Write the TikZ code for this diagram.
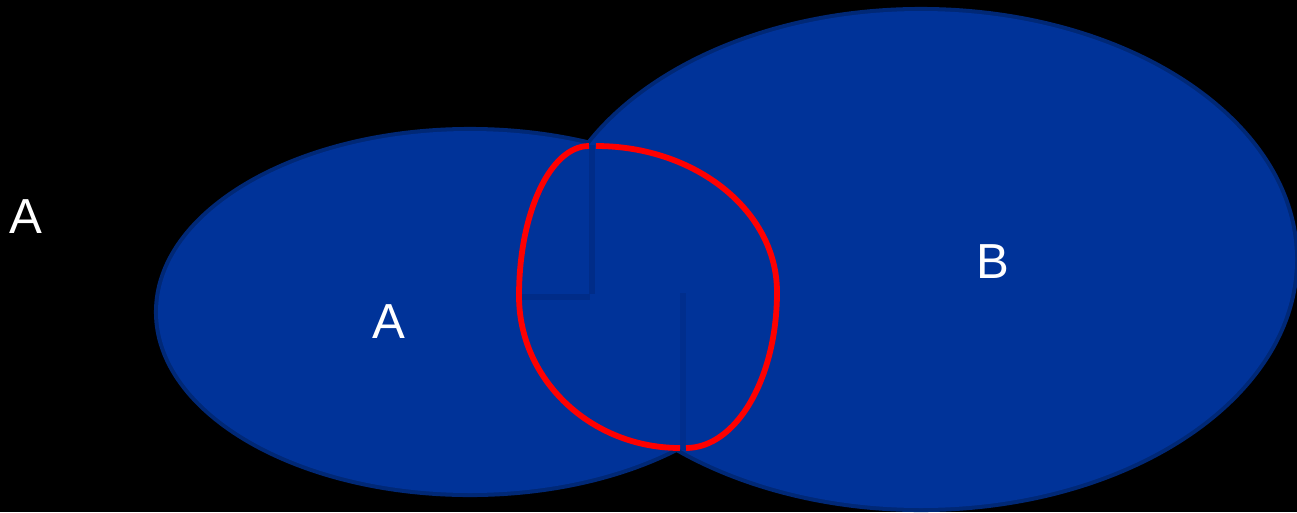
\documentclass[tikz,border=0pt]{standalone}
\usepackage{fontspec}
\setmainfont{Liberation Sans}
\definecolor{setblue}{RGB}{0,51,153}
\definecolor{setedge}{RGB}{0,40,118}
\definecolor{seamcol}{RGB}{0,30,100}
\begin{document}
\begin{tikzpicture}[x=0.02cm,y=0.02cm,
  setedgeline/.style={draw=setedge,line width=4.6pt},
  setfill/.style={fill=setblue},
  redarc/.style={draw=red,line width=3.3pt},
  seam/.style={draw=seamcol,opacity=0.3,line width=3pt},
  lbl/.style={text=white,font=\fontsize{28}{30}\selectfont,inner sep=0pt}]
\fill[black] (0,0) rectangle (1297,512);
\useasboundingbox (0,0) rectangle (1297,512);
% ellipses: outlines first, fills on top so inner outlines are hidden
\draw[setedgeline] (470,200) ellipse [x radius=312, y radius=181];
\draw[setedgeline] (921,252.5) ellipse [x radius=374, y radius=248.5];
\fill[setfill] (470,200) ellipse [x radius=312, y radius=181];
\fill[setfill] (921,252.5) ellipse [x radius=374, y radius=248.5];
% seams of the arc shapes
\draw[seam] (592,367) -- (592,218);
\draw[seam] (520,215) -- (590,215);
\draw[seam,opacity=0.22] (683,219) -- (683,62);
% red outline made of four quarter arcs
\draw[redarc] (519,216) arc[start angle=180, end angle=90, x radius=70, y radius=150];
\draw[redarc] (596,366) arc[start angle=90, end angle=0, x radius=181, y radius=146];
\draw[redarc] (777,220) arc[start angle=0, end angle=-90, x radius=91, y radius=156];
\draw[redarc] (680,64) arc[start angle=270, end angle=180, x radius=161, y radius=152];
% labels
\node[lbl] (outA) at (26,295) {A};
\node[lbl] (setA) at (389,190) {A};
\node[lbl] (setB) at (993,250) {B};
\end{tikzpicture}
\end{document}
